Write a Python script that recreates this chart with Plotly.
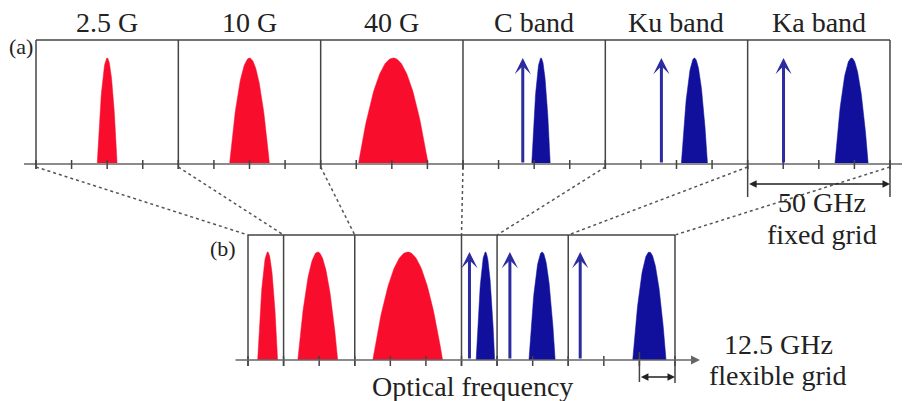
import numpy as np
import plotly.graph_objects as go

# ---------------- data ----------------
signals = ["2.5 G", "10 G", "40 G", "C band", "Ku band", "Ka band"]
is_radio = [False, False, False, True, True, True]
bandwidth_ghz = [7.0, 14.0, 24.5, 6.5, 9.2, 11.7]          # occupied spectrum
fixed_center_ghz = [25.0, 25.0, 25.5, 27.4, 31.3, 36.5]    # inside 50 GHz slot
fixed_carrier_ghz = [None, None, None, 21.0, 19.7, 12.6]
flex_slots = [1, 2, 3, 1, 2, 3]                             # 12.5 GHz slots used
flex_center_ghz = [6.9, 12.0, 18.6, 8.4, 15.8, 28.5]
flex_carrier_ghz = [None, None, None, 2.8, 4.5, 4.2]
peak_amp = [1.0, 1.0, 1.0, 1.0, 1.0, 1.0]
fixed_grid_ghz = 50.0
flex_grid_ghz = 12.5
panel_a_label = "(a)"
panel_b_label = "(b)"
x_title = "Optical frequency"
fixed_text = ["50 GHz", "fixed grid"]
flex_text = ["12.5 GHz", "flexible grid"]

# ---------------- layout constants ----------------
PAGE_W, PAGE_H, BODY = 910, 401, 8   # page has an 8px body margin
W, H = PAGE_W - BODY, PAGE_H - BODY
PX = 142.33 / 50.0            # pixels per GHz
X0 = 36.0                      # page pixel of 0 GHz
FLEX0 = (248.0 - X0) / PX      # start of flexible grid, GHz
A_TOP, A_BASE, A_AMP = 40.0, 164.0, 106.0
B_TOP, B_BASE, B_AMP = 235.0, 360.0, 108.0
RED, BLUE, ARROWBLUE = "#f80d2c", "#10109c", "#2c2ca0"
FRAME, AXIS, DOT = "#444444", "#8c8c8c", "#555555"
FONT = "Liberation Serif"
TS = 28

fig = go.Figure()
shapes = []
ann = []


def gx(px):
    return (px - X0) / PX


def line(x0, y0, x1, y1, color=FRAME, width=1.5, dash="solid"):
    shapes.append(dict(type="line", xref="x", yref="y", x0=x0, y0=y0, x1=x1, y1=y1,
                       line=dict(color=color, width=width, dash=dash)))


def pulse(center, bw, amp, base, hgt, color):
    u = np.linspace(-1, 1, 81)
    xs = center + u * bw / 2
    ys = base - amp * hgt * (1 - u ** 2)
    fig.add_trace(go.Scatter(x=xs, y=ys, mode="lines", fill="toself", fillcolor=color,
                             line=dict(width=0.5, color=color), hoverinfo="skip",
                             showlegend=False))


def arrow(x, y_head, x_t, y_tail, color, width, head=2, size=1.0, side="end"):
    ann.append(dict(x=x, y=y_head, ax=x_t, ay=y_tail, xref="x", yref="y", axref="x",
                    ayref="y", text="", showarrow=True, arrowhead=head, startarrowhead=head,
                    arrowsize=size, startarrowsize=size, arrowwidth=width,
                    arrowcolor=color, arrowside=side, standoff=0, startstandoff=0))


def text(x, y, s, size, xanchor="center"):
    ann.append(dict(x=x, y=y, xref="x", yref="y", text=s, showarrow=False,
                    font=dict(family=FONT, size=size, color="#222222"),
                    xanchor=xanchor, yanchor="middle"))


n = len(signals)
fixed_bounds = [i * fixed_grid_ghz for i in range(n + 1)]
cum = [0]
for s in flex_slots:
    cum.append(cum[-1] + s)
flex_bounds = [FLEX0 + c * flex_grid_ghz for c in cum]

# ---------- panel (a): fixed grid ----------
line(fixed_bounds[0], A_TOP, fixed_bounds[-1], A_TOP)
line(gx(24), A_BASE, gx(910), A_BASE, color=AXIS, width=2)
for k in range(int(fixed_bounds[-1] / flex_grid_ghz) + 1):
    f = k * flex_grid_ghz
    line(f, A_BASE - 4, f, A_BASE + 5, color=FRAME, width=1.5)
for b in fixed_bounds:
    line(b, A_TOP, b, A_BASE + 5)

# ---------- panel (b): flexible grid ----------
line(flex_bounds[0], B_TOP, flex_bounds[-1], B_TOP)
arrow(gx(700), B_BASE, gx(234), B_BASE, "#666666", 1.5, head=2, size=1.2)
for k in range(cum[-1] + 1):
    f = FLEX0 + k * flex_grid_ghz
    line(f, B_BASE - 4, f, B_BASE + 6)
for i, b in enumerate(flex_bounds):
    line(b, B_TOP, b, B_BASE + 6 if i < len(flex_bounds) - 1 else B_BASE + 23)

# dotted mapping lines
for fa, fb in zip(fixed_bounds, flex_bounds):
    line(fa, A_BASE + 3, fb, B_TOP, color=DOT, width=1.5, dash="dot")

# spectra
for i in range(n):
    col = BLUE if is_radio[i] else RED
    pulse(fixed_bounds[i] + fixed_center_ghz[i], bandwidth_ghz[i], peak_amp[i], A_BASE, A_AMP, col)
    pulse(flex_bounds[i] + flex_center_ghz[i], bandwidth_ghz[i], peak_amp[i], B_BASE, B_AMP, col)
    if fixed_carrier_ghz[i] is not None:
        xc = fixed_bounds[i] + fixed_carrier_ghz[i]
        arrow(xc, A_BASE - A_AMP * peak_amp[i], xc, A_BASE, ARROWBLUE, 3, head=3, size=0.9)
    if flex_carrier_ghz[i] is not None:
        xc = flex_bounds[i] + flex_carrier_ghz[i]
        arrow(xc, B_BASE - B_AMP * peak_amp[i], xc, B_BASE, ARROWBLUE, 3, head=3, size=0.9)
    text((fixed_bounds[i] + fixed_bounds[i + 1]) / 2, 22, signals[i], TS)

# 50 GHz fixed grid marker
line(fixed_bounds[-2], A_BASE + 2, fixed_bounds[-2], 197)
line(fixed_bounds[-1], A_BASE + 2, fixed_bounds[-1], 197)
arrow(fixed_bounds[-1], 184, fixed_bounds[-2], 184, "#222222", 1.5, head=2, size=1.0, side="end+start")
xm = gx(822)
text(xm, 202, fixed_text[0], TS)
text(xm, 234, fixed_text[1], TS)

# 12.5 GHz flexible grid marker
xg0 = flex_bounds[-1] - flex_grid_ghz
line(xg0, 352, xg0, 382)
arrow(flex_bounds[-1], 377, xg0, 377, "#222222", 1.5, head=2, size=1.0, side="end+start")
text(gx(778), 344, flex_text[0], TS)
text(gx(778), 375, flex_text[1], TS)

text(gx(472), 386, x_title, TS)
text(gx(21), 46, panel_a_label, 22)
text(gx(223), 248, panel_b_label, 22)

fig.update_layout(
    width=W, height=H, margin=dict(l=0, r=0, t=0, b=0),
    paper_bgcolor="white", plot_bgcolor="white",
    xaxis=dict(range=[gx(BODY), gx(PAGE_W)], visible=False, fixedrange=True),
    yaxis=dict(range=[PAGE_H, BODY], visible=False, fixedrange=True),
    shapes=shapes, annotations=ann, showlegend=False,
)
fig.write_html("out.html")
